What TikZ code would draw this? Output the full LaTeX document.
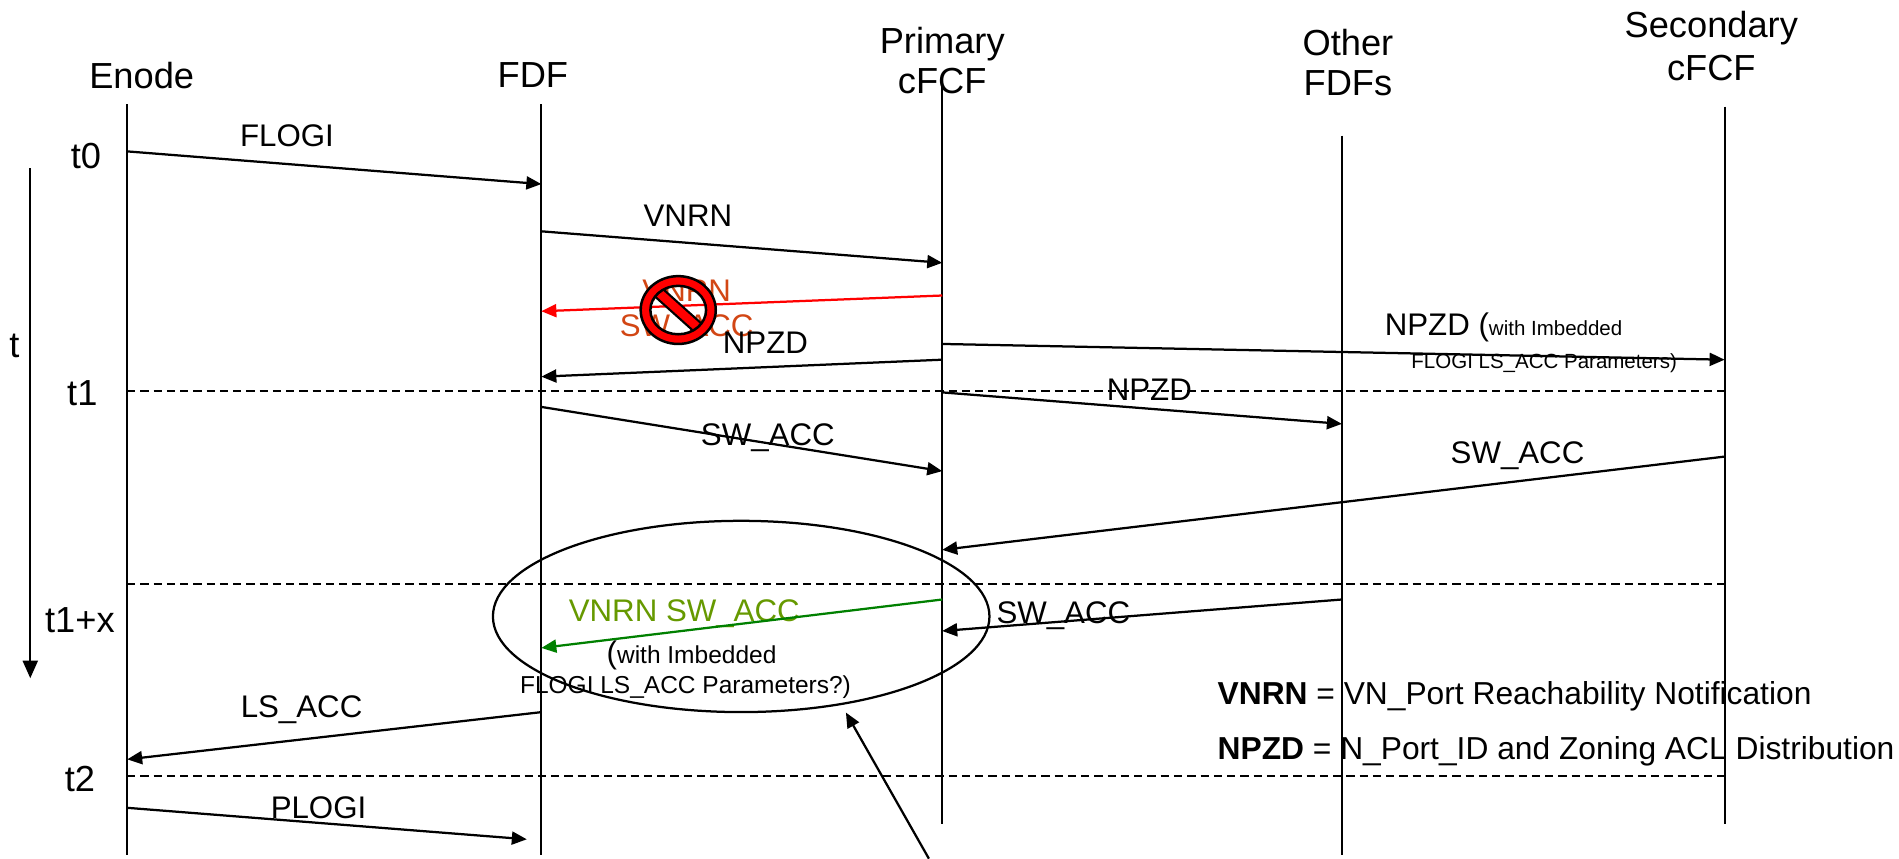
\documentclass[tikz,border=0pt]{standalone}
\usepackage{fontspec}
\setmainfont{Liberation Sans}
\usetikzlibrary{arrows.meta,calc,shapes.geometric}

\definecolor{dropred}{RGB}{210,70,20}
\definecolor{okgreen}{RGB}{0,128,0}
\definecolor{oktext}{RGB}{102,153,0}
\newcommand{\smalltxt}[1]{{\fontsize{9.8}{11}\selectfont #1}}
\newcommand{\tinytxt}[1]{{\fontsize{8.2}{10}\selectfont #1}}

\begin{document}
\begin{tikzpicture}[x=0.4844pt,y=-0.4844pt]
			\tikzset{every node/.style={font=\fontsize{12.5}{15}\selectfont,inner sep=0pt,align=center}}
			\tikzset{head/.style={font=\fontsize{14.5}{16}\selectfont}}
			\tikzset{life/.style={line width=0.8pt}}
			\tikzset{msg/.style={line width=0.9pt,-{Triangle[length=6pt,width=5.2pt]}}}
			\tikzset{tline/.style={line width=0.8pt,dash pattern=on 3.3pt off 2pt}}
			\useasboundingbox (0,0) rectangle (1568,709);
			% lifelines
			\coordinate (E) at (105,0);
			\coordinate (F) at (447,0);
			\coordinate (P) at (778,0);
			\coordinate (O) at (1108,0);
			\coordinate (S) at (1424,0);
			\node[head] (enode) at (117,62) {Enode};
			\node[head] (fdf) at (440,62) {FDF};
			\node[head] (prim) at (778,50) {Primary\\cFCF};
			\node[head] (other) at (1113,52) {Other\\FDFs};
			\node[head] (sec) at (1413,38) {Secondary\\[1pt]cFCF};
			\draw[life] ($(E)+(0,86)$) -- ($(E)+(0,706)$);
			\draw[life] ($(F)+(0,86)$) -- ($(F)+(0,706)$);
			\draw[life] ($(P)+(0,62)$) -- ($(P)+(0,680)$);
			\draw[life] ($(O)+(0,112)$) -- ($(O)+(0,706)$);
			\draw[life] ($(S)+(0,88)$) -- ($(S)+(0,680)$);
			% time axis
			\node[head] (t) at (12,286) {t};
			\node[head] (t0) at (71,129) {t0};
			\node[head] (t1) at (68,325) {t1};
			\node[head] (t1x) at (66,512) {t1+x};
			\node[head] (t2) at (66,643) {t2};
			\draw[line width=0.8pt,-{Triangle[length=7pt,width=6pt]}] (25,139) -- (25,560);
			\draw[tline] ($(E)+(0,323)$) -- ($(S)+(0,323)$);
			\draw[tline] ($(E)+(0,482)$) -- ($(S)+(0,482)$);
			\draw[tline] ($(E)+(0,641)$) -- ($(S)+(0,641)$);
			% messages
			\node (flogi) at (237,112) {FLOGI};
			\draw[msg] ($(E)+(0,125)$) -- ($(F)+(0,152)$);
			\node (vnrn) at (568,178) {VNRN};
			\draw[msg] ($(F)+(0,191)$) -- ($(P)+(0,217)$);
			\draw[msg,red] ($(P)+(0,244)$) -- ($(F)+(0,257)$);
			\node[text=dropred,font=\fontsize{12.5}{14}\selectfont] (drop) at (567,257) {VNRN\\SW\_ACC};
			% no entry sign
			\begin{scope}
				\clip (560,256) ellipse (23 and 20);
				\draw[line width=5.2pt] (531,230) -- (589,282);
				\draw[line width=3.4pt,red] (531,230) -- (589,282);
			\end{scope}
			\fill[red,even odd rule] (560,256) ellipse (31 and 28) (560,256) ellipse (23 and 20);
			\draw[line width=1pt] (560,256) ellipse (31 and 28) (560,256) ellipse (23 and 20);
			\node (npzdf) at (632,283) {NPZD};
			\draw[msg] ($(P)+(0,297)$) -- ($(F)+(0,311)$);
			\node[anchor=west] (npzds) at (1143,270) {NPZD (\tinytxt{with Imbedded}};
			\node[anchor=west] (npzdsp) at (1165,300) {\tinytxt{FLOGI LS\_ACC Parameters)}};
			\draw[msg] ($(P)+(0,284)$) -- ($(S)+(0,297)$);
			\node (npzdo) at (949,322) {NPZD};
			\draw[msg] ($(P)+(0,324)$) -- ($(O)+(0,350)$);
			\node (swf) at (634,361) {SW\_ACC};
			\draw[msg] ($(F)+(0,336)$) -- ($(P)+(0,389)$);
			\node (sws) at (1253,376) {SW\_ACC};
			\draw[msg] ($(S)+(0,377)$) -- ($(P)+(0,454)$);
			\node (swo) at (878,508) {SW\_ACC};
			\draw[msg] ($(O)+(0,495)$) -- ($(P)+(0,521)$);
			\node[text=oktext] (vnrnsw) at (565,507) {VNRN SW\_ACC};
			\draw[msg,okgreen] ($(P)+(0,495)$) -- ($(F)+(0,535)$);
			\node (imb) at (571,541) {(\smalltxt{with Imbedded}};
			\node (imbp) at (566,567) {\smalltxt{FLOGI LS\_ACC Parameters?)}};
			\node (lsacc) at (249,586) {LS\_ACC};
			\draw[msg] ($(F)+(0,588)$) -- ($(E)+(0,627)$);
			\node (plogi) at (263,667) {PLOGI};
			\draw[msg] ($(E)+(0,667)$) -- ($(F)+(-12,693)$);
			% callout
			\node[draw,ellipse,line width=0.9pt,minimum width=198.6pt,minimum height=76.5pt] (callout) at (612,509) {};
			\coordinate (cmt) at (767,709);
			\draw[msg] (cmt) -- ([shift={(5,6)}]callout.-42);
			% key
			\node[anchor=west,font=\fontsize{12.7}{15}\selectfont] (vnrnkey) at (1005,575) {\textbf{VNRN} = VN\_Port Reachability Notification};
			\node[anchor=west,font=\fontsize{12.7}{15}\selectfont] (npzdkey) at (1005,620) {\textbf{NPZD} = N\_Port\_ID and Zoning ACL Distribution};
		\end{tikzpicture}
\end{document}
